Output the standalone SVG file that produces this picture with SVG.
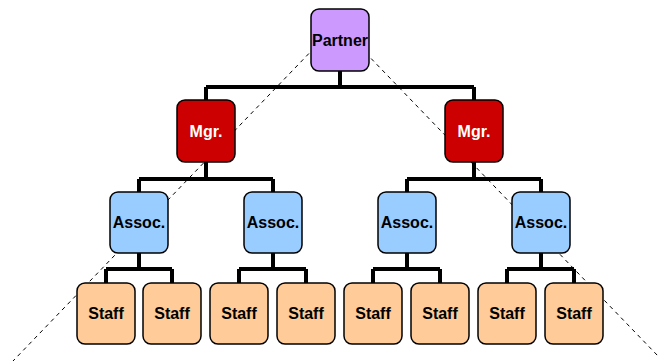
<svg xmlns="http://www.w3.org/2000/svg" width="659" height="364" viewBox="0 0 659 364">
<style>
.box{stroke:#000;stroke-width:1.5}
.p{fill:#CC99FF}.m{fill:#CC0000}.a{fill:#99CCFF}.s{fill:#FFCC99}
text{font-family:"Liberation Sans",Arial,sans-serif;font-weight:bold;font-size:16px;text-anchor:middle}
.w{fill:#fff}
.c{fill:none;stroke:#000;stroke-width:4}
.d{fill:none;stroke:#000;stroke-width:1;stroke-dasharray:4 4}
</style>
<rect width="659" height="364" fill="#fff"/>
<g id="guides">
<line class="d" x1="320" y1="42" x2="13" y2="361"/>
<line class="d" x1="360" y1="47" x2="658" y2="356"/>
</g>
<g id="connectors">
<path class="c" d="M340 71V87M206 87H474M206 87V100M474 87V100"/>
<path class="c" d="M206 162V179M139 179H273M139 179V192M273 179V192"/>
<path class="c" d="M474 162V179M407 179H541M407 179V192M541 179V192"/>
<path class="c" d="M139 253V269M106 269H172M106 269V283M172 269V283"/>
<path class="c" d="M273 253V269M239 269H306M239 269V283M306 269V283"/>
<path class="c" d="M407 253V269M373 269H440M373 269V283M440 269V283"/>
<path class="c" d="M541 253V269M507 269H574M507 269V283M574 269V283"/>
</g>
<g id="partner"><rect class="box p" x="311" y="9" width="58" height="62" rx="8"/><text x="340" y="46">Partner</text></g>
<g id="mgr1"><rect class="box m" x="177" y="100" width="58" height="62" rx="8"/><text class="w" x="206" y="137">Mgr.</text></g>
<g id="mgr2"><rect class="box m" x="445" y="100" width="58" height="62" rx="8"/><text class="w" x="474" y="137">Mgr.</text></g>
<g id="assoc1"><rect class="box a" x="110" y="192" width="58" height="61" rx="8"/><text x="139" y="228">Assoc.</text></g>
<g id="assoc2"><rect class="box a" x="244" y="192" width="58" height="61" rx="8"/><text x="273" y="228">Assoc.</text></g>
<g id="assoc3"><rect class="box a" x="378" y="192" width="58" height="61" rx="8"/><text x="407" y="228">Assoc.</text></g>
<g id="assoc4"><rect class="box a" x="512" y="192" width="58" height="61" rx="8"/><text x="541" y="228">Assoc.</text></g>
<g id="staff1"><rect class="box s" x="77" y="283" width="58" height="61" rx="8"/><text x="106" y="319">Staff</text></g>
<g id="staff2"><rect class="box s" x="143" y="283" width="58" height="61" rx="8"/><text x="172" y="319">Staff</text></g>
<g id="staff3"><rect class="box s" x="210" y="283" width="58" height="61" rx="8"/><text x="239" y="319">Staff</text></g>
<g id="staff4"><rect class="box s" x="277" y="283" width="58" height="61" rx="8"/><text x="306" y="319">Staff</text></g>
<g id="staff5"><rect class="box s" x="344" y="283" width="58" height="61" rx="8"/><text x="373" y="319">Staff</text></g>
<g id="staff6"><rect class="box s" x="411" y="283" width="58" height="61" rx="8"/><text x="440" y="319">Staff</text></g>
<g id="staff7"><rect class="box s" x="478" y="283" width="58" height="61" rx="8"/><text x="507" y="319">Staff</text></g>
<g id="staff8"><rect class="box s" x="545" y="283" width="58" height="61" rx="8"/><text x="574" y="319">Staff</text></g>
</svg>
